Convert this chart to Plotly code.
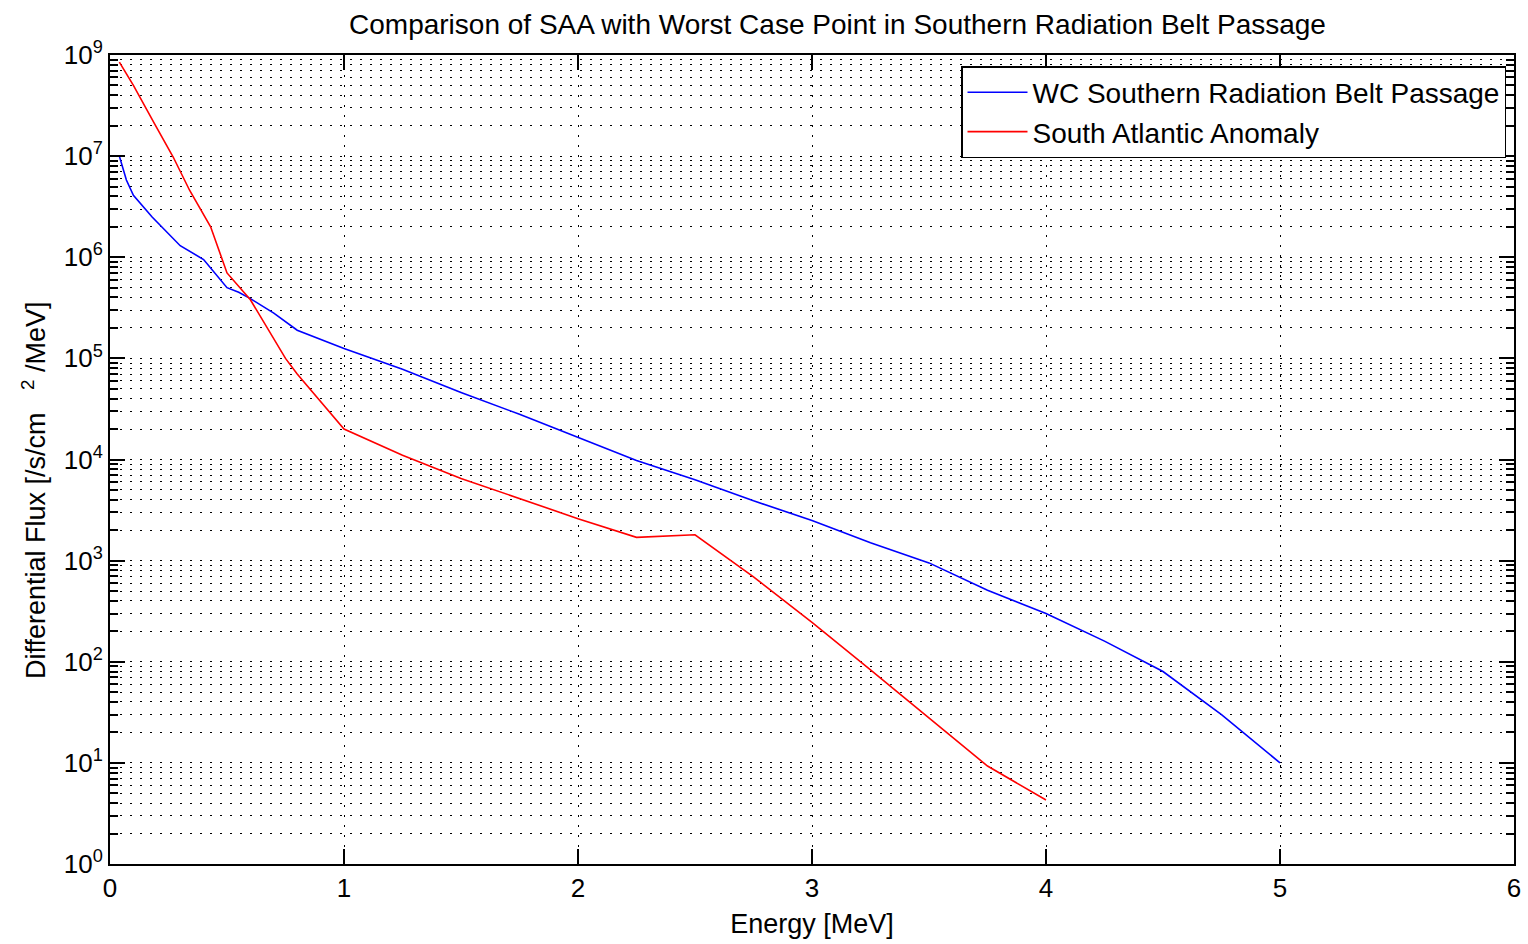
import plotly.graph_objects as go

# ---- data ----
energy_wc = [0.04, 0.07, 0.10, 0.18, 0.30, 0.40, 0.50, 0.55, 0.60, 0.70, 0.80, 1.00,
             1.25, 1.50, 1.75, 2.00, 2.25, 2.50, 2.75, 3.00, 3.25, 3.50, 3.75, 4.00,
             4.25, 4.50, 4.75, 5.00]
flux_wc = [1.0e7, 5.8e6, 4.1e6, 2.5e6, 1.3e6, 9.5e5, 5.0e5, 4.5e5, 3.9e5, 2.8e5, 1.9e5, 1.25e5,
           7.8e4, 4.6e4, 2.8e4, 1.65e4, 9.8e3, 6.3e3, 3.9e3, 2.5e3, 1.5e3, 9.5e2, 5.1e2, 3.0e2,
           1.6e2, 8.0e1, 3.0e1, 1.0e1]

energy_saa = [0.04, 0.10, 0.19, 0.27, 0.34, 0.43, 0.50, 0.60, 0.75, 0.80, 1.00, 1.25, 1.50, 1.75,
              2.00, 2.25, 2.50, 2.75, 3.00, 3.25, 3.50, 3.75, 4.00]
flux_saa = [8.5e7, 5.0e7, 2.1e7, 9.8e6, 4.6e6, 2.0e6, 7.0e5, 3.8e5, 1.0e5, 7.0e4, 2.0e4, 1.1e4,
            6.5e3, 4.1e3, 2.6e3, 1.7e3, 1.8e3, 6.9e2, 2.45e2, 8.3e1, 2.75e1, 9.3e0, 4.3e0]

series_names = ["WC Southern Radiation Belt Passage", "South Atlantic Anomaly"]
series_colors = ["#0000ff", "#ff0000"]

x_ticks = [0, 1, 2, 3, 4, 5, 6]
y_tickvals = [1, 1e1, 1e2, 1e3, 1e4, 1e5, 1e6, 1e7, 1e8]
y_ticktext = ["10<sup>0</sup>", "10<sup>1</sup>", "10<sup>2</sup>", "10<sup>3</sup>",
              "10<sup>4</sup>", "10<sup>5</sup>", "10<sup>6</sup>", "10<sup>7</sup>",
              "10<sup>9</sup>"]

title_text = "Comparison of SAA with Worst Case Point in Southern Radiation Belt Passage"
x_title = "Energy [MeV]"
y_title = "Differential Flux [/s/cm\u00a0\u00a0\u00a0<sup>2</sup>\u00a0/MeV]"

# minor tick positions for log axis (2..9 per decade)
minor_vals = [m * 10 ** d for d in range(0, 8) for m in range(2, 10)]

FONT = "Liberation Sans, Arial, Helvetica, sans-serif"

fig = go.Figure()
fig.add_trace(go.Scatter(x=energy_wc, y=flux_wc, mode="lines", name=series_names[0],
                         line=dict(color=series_colors[0], width=1.6)))
fig.add_trace(go.Scatter(x=energy_saa, y=flux_saa, mode="lines", name=series_names[1],
                         line=dict(color=series_colors[1], width=1.6)))

L, R, T, B = 110, 7, 55, 80
W, H = 1528, 944
PW = 1405.0   # visible plot width target
PH = H - T - B

fig.update_layout(
    width=W, height=H,
    margin=dict(l=L, r=R, t=T, b=B),
    paper_bgcolor="white", plot_bgcolor="white",
    font=dict(family=FONT, size=27, color="black"),
    title=dict(text=title_text, x=(838 - L) / PW, xanchor="center",
               y=1 - 24 / H, yanchor="middle", xref="paper", yref="container",
               font=dict(size=28)),
    showlegend=True,
    legend=dict(x=(1507 - L) / PW, xanchor="right",
                y=1 - (66 - T) / PH, yanchor="top",
                bgcolor="white", bordercolor="black", borderwidth=1.5,
                font=dict(size=28), tracegroupgap=0, itemwidth=60),
)

fig.add_annotation(text=y_title, textangle=-90, xref="paper", yref="paper",
                   x=-(L - 34) / PW, y=1 - (490 - T) / PH, xanchor="center",
                   yanchor="middle", showarrow=False, font=dict(size=27))

grid_dash = "2px,8px"

fig.update_xaxes(
    range=[0, 6], tickvals=x_ticks, ticktext=[str(v) for v in x_ticks],
    showline=True, linecolor="black", linewidth=2, mirror="allticks",
    ticks="inside", ticklen=15, tickwidth=2, tickcolor="black",
    showgrid=True, gridcolor="black", gridwidth=1.3, griddash=grid_dash,
    zeroline=False,
    title=dict(text=x_title, standoff=12, font=dict(size=27)),
    tickfont=dict(size=26),
)
fig.update_yaxes(
    type="log", range=[0, 8], tickvals=y_tickvals, ticktext=y_ticktext,
    showline=True, linecolor="black", linewidth=2, mirror="allticks",
    ticks="inside", ticklen=15, tickwidth=2, tickcolor="black",
    showgrid=True, gridcolor="black", gridwidth=1.3, griddash=grid_dash,
    zeroline=False,
    minor=dict(tickvals=minor_vals, ticks="inside", ticklen=8, tickwidth=2,
               tickcolor="black", showgrid=True, gridcolor="black", gridwidth=1.3,
               griddash=grid_dash),
    tickfont=dict(size=26),
)

fig.write_html("out.html")
